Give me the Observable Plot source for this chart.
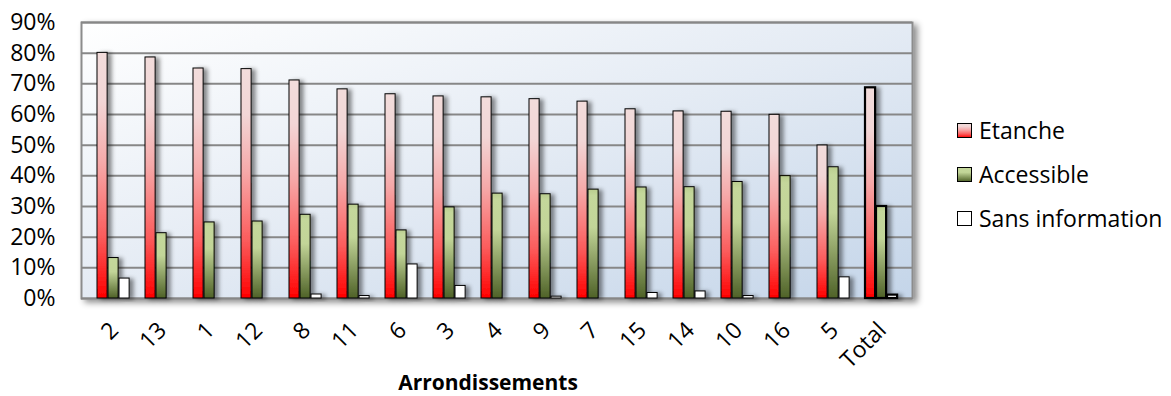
<!DOCTYPE html>
<html><head><meta charset="utf-8">
<script src="https://cdn.jsdelivr.net/npm/d3@7"></script>
<script src="https://cdn.jsdelivr.net/npm/@observablehq/plot@0.6"></script>
<style>
body{margin:0;background:#fff;font-family:"Open Sans",sans-serif}
#wrap{position:relative;width:1171px;height:396px;overflow:hidden}
#legend{position:absolute;left:957px;top:108px;font-size:23px;color:#000;font-family:"Open Sans",sans-serif}
.item{display:flex;align-items:center;height:44px;white-space:nowrap}
.item svg{margin-right:7px}
</style></head><body><div id="wrap"><div id="chart"></div><div id="legend"></div></div>
<script>
const categories = ["2","13","1","12","8","11","6","3","4","9","7","15","14","10","16","5","Total"];
const etanche    = [80.1,78.6,75.0,74.8,71.1,68.2,66.6,65.9,65.6,65.0,64.2,61.7,61.0,60.9,59.9,49.9,68.7];
const accessible = [13.2,21.3,24.8,25.1,27.3,30.6,22.2,29.7,34.2,34.0,35.5,36.2,36.3,38.0,39.9,42.8,30.0];
const sansInfo   = [6.5,0,0,0,1.3,0.8,11.1,4.1,0,0.6,0,1.8,2.3,0.8,0,6.9,1.1];
const seriesNames = ["Etanche","Accessible","Sans information"];
const yTicks = [0,10,20,30,40,50,60,70,80,90];
const xTitle = "Arrondissements";

const rows = categories.map((c,i)=>({cat:c, etanche:etanche[i], accessible:accessible[i], sans:sansInfo[i]}));

const W = 940, H = 396, ML = 81, MR = 28, MT = 22, MB = 98;
const band = (W - ML - MR) / categories.length;
const barW = 11, off = 8;
const sw = d => d.cat === "Total" ? 2.2 : 1;
function inset(k){ return {insetLeft: off + k*barW, insetRight: band - off - (k+1)*barW}; }

const chart = Plot.plot({
  width: W, height: H,
  marginLeft: ML, marginRight: MR, marginTop: MT, marginBottom: MB,
  style: {fontSize: "23px", fontFamily: "'Open Sans', sans-serif", color: "#000", background: "transparent", overflow: "visible"},
  x: {domain: categories, padding: 0, axis: null},
  y: {domain: [0, 90], ticks: yTicks, tickFormat: d => d + "%", tickSize: 0, tickPadding: 26, label: null},
  marks: [
    Plot.frame({fill: "url(#bgGrad)", stroke: "#8c8c8c", strokeWidth: 2}),
    Plot.ruleY(yTicks, {stroke: "#878787", strokeWidth: 2}),
    Plot.barY(rows, {x: "cat", y: "etanche", fill: "url(#redGrad)", stroke: "#000", strokeWidth: sw, ...inset(0)}),
    Plot.barY(rows, {x: "cat", y: "accessible", fill: "url(#greenGrad)", stroke: "#000", strokeWidth: sw, ...inset(1)}),
    Plot.barY(rows, {x: "cat", y: "sans", fill: "#ffffff", stroke: "#000", strokeWidth: sw, ...inset(2)}),
    Plot.text(rows, {x: "cat", text: "cat", frameAnchor: "bottom", rotate: -45, textAnchor: "end", lineAnchor: "middle", dx: 1, dy: 28, fontSize: 23}),
    Plot.text([xTitle], {text: d => d, frameAnchor: "bottom", dy: 85, dx: -9, fontWeight: "bold", fontSize: 21, lineAnchor: "middle"})
  ]
});
document.getElementById("chart").appendChild(chart);

const svg = d3.select(chart);
const defs = svg.insert("defs", ":first-child");
function grad(id, stops, x2, y2){
  const g = defs.append("linearGradient").attr("id", id).attr("x1",0).attr("y1",0).attr("x2",x2).attr("y2",y2);
  stops.forEach(([o,c]) => g.append("stop").attr("offset", o).attr("stop-color", c));
}
grad("redGrad", [[0,"#f2dcdb"],[0.2,"#f2d6d6"],[0.45,"#f6a9a9"],[0.75,"#fb5c5c"],[1,"#ff0000"]], 0, 1);
grad("greenGrad", [[0,"#b9cc8e"],[0.06,"#c4d79b"],[0.35,"#c2d598"],[1,"#4f6228"]], 0, 1);
grad("bgGrad", [[0,"#ffffff"],[0.5,"#e4ebf4"],[1,"#c4d5e9"]], 1, 1);
const f1 = defs.append("filter").attr("id","barShadow").attr("x","-20%").attr("y","-5%").attr("width","160%").attr("height","115%");
f1.append("feDropShadow").attr("dx",4).attr("dy",1).attr("stdDeviation",2).attr("flood-color","#000").attr("flood-opacity",0.45);
const f2 = defs.append("filter").attr("id","frameShadow").attr("x","-5%").attr("y","-5%").attr("width","110%").attr("height","115%");
f2.append("feDropShadow").attr("dx",4).attr("dy",3).attr("stdDeviation",3).attr("flood-color","#000").attr("flood-opacity",0.45);
svg.selectAll('g[aria-label="bar"]').attr("filter","url(#barShadow)");
svg.selectAll('[aria-label="frame"]').attr("filter","url(#frameShadow)");

const legendFills = ["url(#redGrad)","url(#greenGrad)","#ffffff"];
const legend = d3.select("#legend");
seriesNames.forEach((name,i) => {
  const item = legend.append("div").attr("class","item");
  const s = item.append("svg").attr("width",15).attr("height",15);
  s.append("rect").attr("x",0.5).attr("y",0.5).attr("width",14).attr("height",14).attr("fill",legendFills[i]).attr("stroke","#000");
  item.append("span").text(name);
});
</script></body></html>
